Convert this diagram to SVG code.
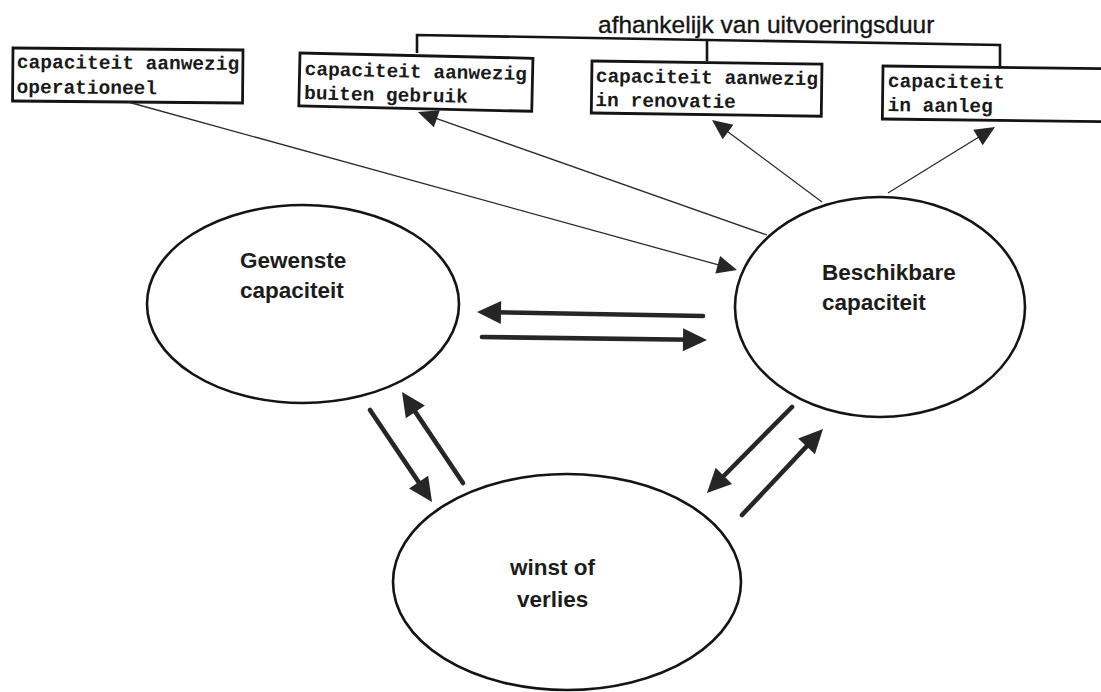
<svg xmlns="http://www.w3.org/2000/svg" width="1101" height="692" viewBox="0 0 1101 692">
  <style>
    .box rect { fill: #fff; stroke: #141414; stroke-width: 2.8; }
    .box text { font-family: "Liberation Mono", "DejaVu Sans Mono", monospace; font-weight: bold; font-size: 19.5px; fill: #1a1a1a; }
    .node ellipse { fill: #fff; stroke: #141414; stroke-width: 2.6; }
    .node text { font-family: "Liberation Sans", Arial, sans-serif; font-weight: bold; font-size: 22.5px; fill: #1c1c1c; }
    .title { font-family: "Liberation Sans", Arial, sans-serif; font-size: 24.5px; fill: #141414; stroke: #141414; stroke-width: 0.35; }
    .bracket { fill: none; stroke: #141414; stroke-width: 2.6; }
    .thin { fill: none; stroke: #2a2a2a; stroke-width: 1.3; marker-end: url(#headThin); }
    .thick { fill: none; stroke: #262626; stroke-width: 4.6; stroke-linecap: round; marker-end: url(#headThick); }
  </style>
  <defs>
    <marker id="headThick" markerUnits="userSpaceOnUse" markerWidth="26" markerHeight="25" refX="10" refY="11.5" orient="auto" overflow="visible">
      <path d="M0,0 L24,11.5 L0,23 Z" fill="#262626"/>
    </marker>
    <marker id="headThin" markerUnits="userSpaceOnUse" markerWidth="22" markerHeight="20" refX="12" refY="9" orient="auto" overflow="visible">
      <path d="M0,0 L20,9 L0,18 Z" fill="#262626"/>
    </marker>
  </defs>

  <rect width="1101" height="692" fill="#fff"/>

  <!-- heading with bracket over the three time-dependent boxes -->
  <g id="heading">
    <text class="title" x="598" y="33">afhankelijk van uitvoeringsduur</text>
    <path class="bracket" d="M417,53 L417,35 L1000,45 L1000,67"/>
    <path class="bracket" d="M707,40 L707,61"/>
  </g>

  <g id="box-operationeel" class="box" transform="rotate(0.5 13 48)">
    <rect x="13" y="48" width="230" height="53"/>
    <text x="17" y="68">capaciteit aanwezig</text>
    <text x="17" y="93">operationeel</text>
  </g>

  <g id="box-buiten-gebruik" class="box" transform="rotate(1.3 300 53)">
    <rect x="300" y="53" width="233" height="53"/>
    <text x="305" y="75">capaciteit aanwezig</text>
    <text x="305" y="99">buiten gebruik</text>
  </g>

  <g id="box-renovatie" class="box" transform="rotate(0.8 592 61)">
    <rect x="592" y="61" width="230" height="52"/>
    <text x="596" y="82">capaciteit aanwezig</text>
    <text x="596" y="106">in renovatie</text>
  </g>

  <g id="box-aanleg" class="box" transform="rotate(0.7 883 66)">
    <rect x="883" y="66" width="240" height="53"/>
    <text x="888" y="87">capaciteit</text>
    <text x="888" y="111">in aanleg</text>
  </g>

  <g id="node-gewenste" class="node">
    <ellipse cx="303" cy="304" rx="156" ry="99"/>
    <text x="240" y="268">Gewenste</text>
    <text x="240" y="298">capaciteit</text>
  </g>

  <g id="node-beschikbare" class="node">
    <ellipse cx="880" cy="307" rx="145" ry="110"/>
    <text x="822" y="280">Beschikbare</text>
    <text x="822" y="310">capaciteit</text>
  </g>

  <g id="node-winst" class="node">
    <ellipse cx="567" cy="582" rx="174" ry="108"/>
    <text x="510" y="575">winst of</text>
    <text x="517" y="607">verlies</text>
  </g>

  <g id="connectors">
    <!-- thin links between the boxes and the available capacity -->
    <line class="thin" x1="128" y1="102" x2="729.3" y2="267.9"/>
    <line class="thin" x1="767" y1="235" x2="425.5" y2="114.7"/>
    <line class="thin" x1="822" y1="202" x2="718.4" y2="124.8"/>
    <line class="thin" x1="888" y1="193" x2="988.2" y2="131.2"/>
    <!-- thick feedback arrows between the three ellipses -->
    <line class="thick" x1="703" y1="316" x2="491" y2="312.2"/>
    <line class="thick" x1="482" y1="337" x2="693" y2="339.8"/>
    <line class="thick" x1="370" y1="410" x2="424.2" y2="490.4"/>
    <line class="thick" x1="463" y1="483" x2="409.8" y2="403.6"/>
    <line class="thick" x1="792" y1="407" x2="716.8" y2="483"/>
    <line class="thick" x1="742" y1="515" x2="813.4" y2="439.2"/>
  </g>
</svg>
